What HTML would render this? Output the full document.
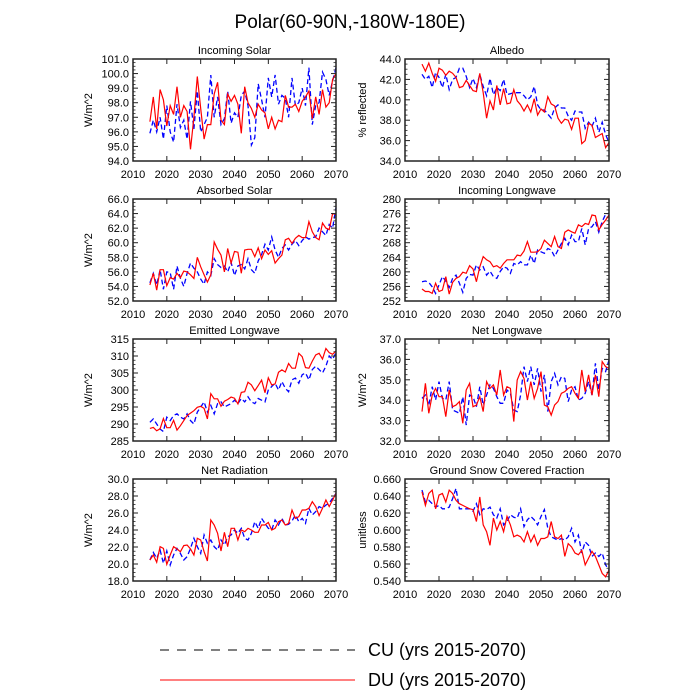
<!DOCTYPE html>
<html><head><meta charset="utf-8"><style>
body{margin:0;background:#fff;}
svg{display:block;font-family:"Liberation Sans",sans-serif;}
</style></head><body>
<svg id="chart" width="700" height="700" viewBox="0 0 700 700">
<text x="350" y="28" text-anchor="middle" font-size="19">Polar(60-90N,-180W-180E)</text>
<g>
<line x1="160" y1="650" x2="355" y2="650" stroke="#000" stroke-width="1" stroke-dasharray="9,8"/>
<text x="368" y="656" font-size="18">CU (yrs 2015-2070)</text>
<line x1="160" y1="680" x2="355" y2="680" stroke="#f00" stroke-width="1"/>
<text x="368" y="686" font-size="18">DU (yrs 2015-2070)</text>
</g>
</svg>
<script>
const startYear = 2015;
const xTicks = [2010,2020,2030,2040,2050,2060,2070];
const titles = ["Incoming Solar","Albedo","Absorbed Solar","Incoming Longwave","Emitted Longwave","Net Longwave","Net Radiation","Ground Snow Covered Fraction"];
const yTitles = ["W/m^2","% reflected","W/m^2","","W/m^2","W/m^2","W/m^2","unitless"];
const yTicks0 = [94,95,96,97,98,99,100,101];
const yTicks1 = [34,36,38,40,42,44];
const yTicks2 = [52,54,56,58,60,62,64,66];
const yTicks3 = [252,256,260,264,268,272,276,280];
const yTicks4 = [285,290,295,300,305,310,315];
const yTicks5 = [32,33,34,35,36,37];
const yTicks6 = [18,20,22,24,26,28,30];
const yTicks7 = [0.54,0.56,0.58,0.60,0.62,0.64,0.66];
const decimals = [1,1,1,0,0,1,1,3];

const solarCU = [95.9,96.8,96.0,97.0,95.5,97.8,96.0,95.3,97.9,96.3,96.8,95.5,98.1,96.2,98.8,96.0,96.5,97.0,99.9,97.0,98.4,96.5,96.9,98.8,96.6,97.3,97.0,98.5,98.8,97.8,95.1,95.6,99.3,98.2,97.0,99.7,98.4,99.9,97.9,98.5,98.3,97.0,99.7,97.8,98.0,99.0,97.8,100.4,96.5,97.8,98.0,100.1,99.6,98.5,99.5,100.4];
const solarDU = [96.7,98.4,96.2,98.9,98.2,96.4,97.8,97.2,99.1,97.0,97.8,97.4,94.8,97.0,99.8,97.6,95.5,96.5,96.5,98.6,99.4,96.8,96.5,98.6,98.1,98.5,97.9,95.9,99.1,98.0,97.6,97.0,97.9,97.5,97.3,96.2,97.0,96.2,96.8,96.7,98.5,97.7,97.7,97.9,97.4,98.1,98.4,98.8,96.9,98.4,97.2,98.9,97.7,98.0,99.6,100.0];
const albedoCU = [42.5,42.0,42.3,41.2,42.7,42.2,41.2,42.5,41.0,42.0,42.2,43.1,43.1,42.3,41.2,42.1,41.2,42.5,41.3,40.4,42.1,40.5,41.2,40.9,42.0,40.5,40.6,40.7,40.7,40.7,40.4,40.0,40.3,41.3,39.5,39.0,39.0,38.6,38.2,39.2,39.5,39.2,39.2,38.4,38.0,38.9,38.8,38.8,37.2,37.8,37.4,38.2,36.8,37.8,36.6,35.8];
const albedoDU = [43.5,42.8,43.6,42.6,41.8,43.1,42.9,42.4,42.8,42.6,42.2,41.2,41.3,41.9,41.4,40.9,40.8,42.6,40.7,38.2,39.9,39.0,41.4,39.5,41.1,39.6,39.7,41.0,39.9,39.5,38.9,39.5,38.8,40.1,38.5,39.1,38.8,40.3,39.6,39.4,38.2,37.7,38.1,38.0,37.1,38.2,38.2,35.7,36.0,37.7,37.5,36.3,36.5,36.7,35.3,35.8];
const absCU = [54.5,55.8,54.2,56.3,53.6,56.0,55.9,53.6,56.8,55.1,54.0,55.8,57.2,56.5,56.0,55.0,54.3,56.0,55.5,57.8,57.0,56.6,56.8,56.0,57.3,55.5,56.8,57.0,56.4,57.8,56.3,55.8,57.5,58.4,59.8,59.0,60.8,59.0,58.0,59.2,59.7,59.0,59.8,60.3,59.6,60.3,60.8,60.5,60.7,60.8,62.0,61.5,61.0,62.5,62.0,64.8];
const absDU = [54.2,55.8,53.5,56.3,56.3,54.1,55.2,55.0,55.8,55.2,56.1,56.0,55.6,55.1,58.0,56.7,55.6,54.6,55.6,60.1,59.1,58.3,56.0,59.2,57.2,58.8,58.7,55.8,59.0,59.1,59.1,58.1,59.3,57.8,59.0,58.4,58.9,57.2,57.8,58.3,60.4,60.6,59.9,60.6,61.0,60.7,60.7,62.9,61.5,60.7,60.4,62.7,62.0,61.8,64.0,63.9];
const inlwCU = [257.3,257.5,257.1,255.9,254.1,256.4,258.7,257.5,255.7,258.2,259.1,256.9,254.4,258.2,259.3,259.1,261.9,260.5,261.4,259.1,260.2,258.7,258.2,260.1,261.4,261.0,259.6,262.3,261.9,262.8,261.9,261.9,264.6,262.3,266.0,265.5,265.1,266.4,266.0,264.2,266.0,267.8,269.2,267.4,270.1,268.3,268.3,271.9,267.4,271.9,272.4,273.8,270.9,273.8,275.8,276.1];
const inlwDU = [255.3,254.6,254.6,254.1,256.9,254.6,255.0,258.7,253.9,257.1,258.2,258.7,259.9,259.6,261.7,260.8,257.3,261.4,264.2,263.3,262.8,261.4,261.7,261.0,262.3,263.3,263.3,263.3,264.6,264.4,265.7,268.3,265.4,265.4,265.5,266.4,268.7,267.8,266.9,269.7,266.9,266.4,270.9,271.5,271.0,270.6,272.9,272.4,273.3,273.0,275.6,275.4,271.5,273.0,274.2,275.6];
const emitCU = [290.5,291.5,290.0,288.5,287.8,292.0,291.0,292.5,293.0,292.0,291.5,293.0,291.0,290.0,293.5,295.0,296.5,293.5,295.5,293.0,296.0,296.5,295.0,295.5,296.0,297.0,296.0,297.5,296.5,298.0,296.5,296.0,297.5,297.0,296.5,300.0,301.0,302.0,300.0,302.5,300.5,299.5,303.0,303.5,302.0,304.5,305.0,303.0,306.0,307.0,306.0,305.0,307.0,310.0,309.0,311.0];
const emitDU = [288.7,289.0,288.0,288.6,291.6,288.9,288.9,291.1,288.2,289.5,291.0,292.5,293.2,293.9,294.9,295.2,294.6,291.5,298.9,297.4,297.4,295.2,296.7,297.2,297.9,297.6,295.9,299.3,299.5,302.3,301.5,299.8,301.3,302.9,299.2,303.6,301.5,301.8,305.2,305.9,305.3,307.8,306.4,306.4,310.8,309.8,306.6,306.4,308.5,310.3,310.8,309.1,312.2,311.0,310.5,311.5];
const netlwCU = [34.09,34.25,33.76,34.66,34.01,34.91,34.09,34.01,34.91,33.52,33.44,33.36,34.17,32.78,34.25,34.17,33.68,34.66,33.76,34.25,34.75,34.58,34.17,33.85,33.85,34.50,34.34,33.52,33.44,34.25,35.64,34.91,35.64,34.75,35.56,34.42,35.24,33.44,34.91,35.32,34.75,35.15,35.07,33.93,34.50,34.66,34.01,34.09,34.34,34.91,34.25,35.81,34.50,35.56,35.40,35.97];
const netlwDU = [33.44,34.83,33.36,34.25,34.58,34.17,34.17,33.19,34.50,33.68,33.76,33.93,32.87,34.50,34.83,33.68,33.76,34.17,33.44,34.91,34.58,34.75,34.25,35.48,34.25,34.66,34.58,32.95,34.99,35.40,35.07,34.01,34.91,34.09,34.58,35.40,33.76,33.68,33.27,33.76,33.93,34.34,34.42,34.58,34.66,34.34,34.09,35.48,34.42,35.24,34.25,35.24,34.17,35.89,35.64,35.56];
const netradCU = [20.47,21.37,20.67,21.65,20.08,21.53,19.88,21.06,21.84,21.25,20.47,20.86,21.84,23.02,22.04,21.25,23.41,22.43,22.82,22.04,21.65,22.82,22.24,23.22,23.41,24.00,23.61,24.20,23.02,22.82,23.61,24.98,24.20,25.37,24.78,24.20,24.00,25.18,24.59,25.37,24.59,24.67,25.06,25.76,24.98,25.37,24.78,26.55,25.76,26.16,26.75,26.55,26.94,27.14,27.73,28.31];
const netradDU = [20.47,21.06,20.20,22.04,21.84,19.96,21.06,22.04,21.76,21.45,22.16,22.24,21.76,21.06,23.02,22.82,21.45,20.35,25.18,24.59,23.61,21.53,23.73,22.04,24.20,24.20,22.82,24.00,23.80,24.20,24.00,23.73,23.73,24.59,24.59,24.90,24.00,24.20,24.98,25.18,24.59,24.78,26.35,25.37,25.57,26.35,26.35,26.55,27.33,26.75,25.69,26.55,27.53,26.75,27.53,28.31];
const snowCU = [0.647,0.633,0.635,0.631,0.627,0.629,0.625,0.625,0.627,0.637,0.649,0.625,0.625,0.625,0.625,0.622,0.631,0.618,0.625,0.624,0.627,0.618,0.614,0.625,0.606,0.610,0.618,0.615,0.614,0.625,0.604,0.612,0.616,0.612,0.606,0.616,0.624,0.602,0.592,0.590,0.588,0.590,0.588,0.592,0.602,0.586,0.594,0.573,0.586,0.582,0.569,0.573,0.569,0.573,0.559,0.553];
const snowDU = [0.645,0.629,0.643,0.647,0.625,0.641,0.643,0.633,0.647,0.643,0.635,0.631,0.629,0.627,0.625,0.624,0.610,0.639,0.606,0.598,0.582,0.614,0.600,0.610,0.598,0.616,0.606,0.592,0.594,0.592,0.586,0.598,0.586,0.594,0.582,0.590,0.590,0.592,0.610,0.592,0.590,0.594,0.569,0.584,0.580,0.573,0.571,0.576,0.559,0.567,0.575,0.569,0.559,0.549,0.545,0.553];

const panelTicks = [yTicks0,yTicks1,yTicks2,yTicks3,yTicks4,yTicks5,yTicks6,yTicks7];
const panelCU = [solarCU,albedoCU,absCU,inlwCU,emitCU,netlwCU,netradCU,snowCU];
const panelDU = [solarDU,albedoDU,absDU,inlwDU,emitDU,netlwDU,netradDU,snowDU];

const NS = "http://www.w3.org/2000/svg";
const svg = document.getElementById('chart');
function mk(tag, attrs, parent){ const e=document.createElementNS(NS,tag); for(const k in attrs) e.setAttribute(k,attrs[k]); parent.appendChild(e); return e; }

const slug = ["incoming-solar","albedo","absorbed-solar","incoming-longwave","emitted-longwave","net-longwave","net-radiation","snow-fraction"];
for(let p=0;p<8;p++){
  const col=p%2, row=Math.floor(p/2);
  const L = col===0?133:405, R = col===0?336:609;
  const T = 59+row*140, B = T+102;
  const ticks = panelTicks[p];
  const y0=ticks[0], y1=ticks[ticks.length-1];
  const xs = yr => L+(yr-2010)/60*(R-L);
  const ys = v => B-(v-y0)/(y1-y0)*(B-T);
  const g = mk('g',{},svg);
  
  
  const t = mk('text',{x:(L+R)/2,y:T-5,'text-anchor':'middle','font-size':'11'},g);
  t.textContent = titles[p];
  
  
  const dc = panelCU[p].map((v,i)=>(i?'L':'M')+xs(startYear+i).toFixed(1)+','+ys(v).toFixed(1)).join('');
  const pc = mk('path',{d:dc,fill:'none',stroke:'#00f','stroke-width':'1.3','stroke-dasharray':'5,3'},g);
  
  
  const dd = panelDU[p].map((v,i)=>(i?'L':'M')+xs(startYear+i).toFixed(1)+','+ys(v).toFixed(1)).join('');
  const pd = mk('path',{d:dd,fill:'none',stroke:'#f00','stroke-width':'1.2'},g);
  
  
  const fr = mk('rect',{x:L,y:T,width:R-L,height:B-T,fill:'none',stroke:'#222','stroke-width':'1.5'},g);
  
  
  xTicks.forEach(yr=>{
    const x=xs(yr);
    mk('line',{x1:x,y1:B,x2:x,y2:B-5,stroke:'#222','stroke-width':'1'},g);
    mk('line',{x1:x,y1:T,x2:x,y2:T+5,stroke:'#222','stroke-width':'1'},g);
    const lt = mk('text',{x:x,y:B+17,'text-anchor':'middle','font-size':'11'},g);
    lt.textContent = yr;
    
    
  });
  const step = ticks[1]-ticks[0];
  ticks.forEach((v,i)=>{
    const y=ys(v);
    mk('line',{x1:L,y1:y,x2:L+5,y2:y,stroke:'#222','stroke-width':'1'},g);
    mk('line',{x1:R,y1:y,x2:R-5,y2:y,stroke:'#222','stroke-width':'1'},g);
    if(i<ticks.length-1){ for(let m=1;m<4;m++){ const ym=ys(v+step*m/4);
      mk('line',{x1:L,y1:ym,x2:L+2.5,y2:ym,stroke:'#222','stroke-width':'0.8'},g);
      mk('line',{x1:R,y1:ym,x2:R-2.5,y2:ym,stroke:'#222','stroke-width':'0.8'},g);} }
    const lt = mk('text',{x:L-4,y:y+4,'text-anchor':'end','font-size':'11'},g);
    lt.textContent = v.toFixed(decimals[p]);
    
    
  });
  if(yTitles[p]){
    const tx = col===0?92:366, ty=(T+B)/2;
    const yt = mk('text',{x:tx,y:ty,'text-anchor':'middle','font-size':'11',transform:'rotate(-90 '+tx+' '+ty+')'},g);
    yt.textContent = yTitles[p];
    
    
  }
}
</script>
</body></html>
